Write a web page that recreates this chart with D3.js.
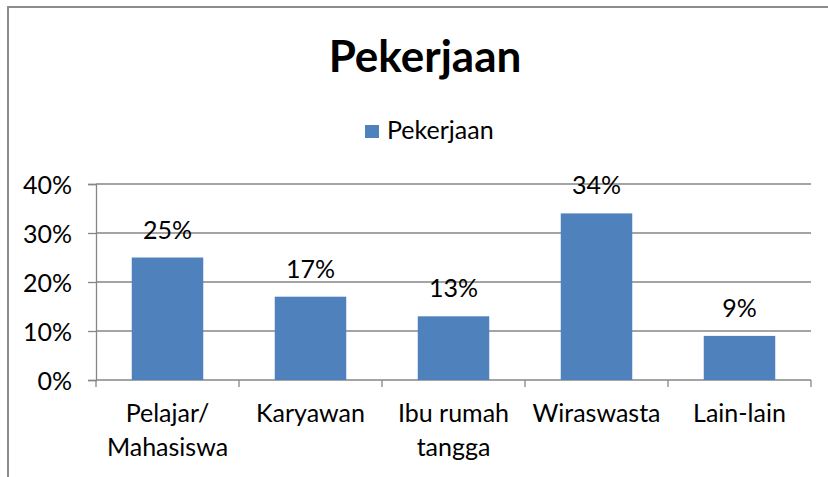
<!DOCTYPE html>
<html>
<head>
<meta charset="utf-8">
<script src="https://cdn.jsdelivr.net/npm/d3@7"></script>
<style>
  html, body { margin: 0; padding: 0; background: #fff; }
  svg { display: block; }
  text { font-family: Lato, "Open Sans", sans-serif; fill: #000; }
</style>
</head>
<body>
<svg id="chart" width="828" height="477"></svg>
<script>
const categories = [["Pelajar/", "Mahasiswa"], ["Karyawan"], ["Ibu rumah", "tangga"], ["Wiraswasta"], ["Lain-lain"]];
const values = [0.25, 0.17, 0.13, 0.34, 0.09];
const yTicks = [0, 0.1, 0.2, 0.3, 0.4];
const seriesName = "Pekerjaan";
const title = "Pekerjaan";

const W = 828, H = 477;
const svg = d3.select("#chart");
const plot = { left: 96, right: 811, top: 184, bottom: 380 };
const fs = 25;

// outer border
svg.append("rect").attr("x", 8).attr("y", 7).attr("width", 900).attr("height", 600)
  .attr("fill", "none").attr("stroke", "#8c8c8c").attr("stroke-width", 2);

const idx = categories.map((d, i) => i);
const x = d3.scaleBand().domain(idx).range([plot.left, plot.right]).paddingInner(0.5).paddingOuter(0.25);
const xb = d3.scaleBand().domain(idx).range([plot.left, plot.right]);
const y = d3.scaleLinear().domain([0, 0.4]).range([plot.bottom, plot.top]);

// gridlines
svg.append("g").selectAll("line").data(yTicks.slice(1)).join("line")
  .attr("x1", plot.left).attr("x2", plot.right)
  .attr("y1", d => y(d)).attr("y2", d => y(d))
  .attr("stroke", "#868686").attr("stroke-width", 1.3);

// y axis
const yAxis = d3.axisLeft(y).tickValues(yTicks).tickFormat(d3.format(".0%")).tickSize(8).tickPadding(16);
const gy = svg.append("g").attr("transform", `translate(${plot.left},0)`).call(yAxis);
gy.select(".domain").attr("stroke", "#868686").attr("stroke-width", 1.3);
gy.selectAll(".tick line").attr("stroke", "#868686").attr("stroke-width", 1.3);
gy.selectAll(".tick text").attr("font-size", fs).attr("font-family", "Lato").attr("fill", "#000").attr("dy", "0.36em");

// x axis line + ticks at boundaries
svg.append("line").attr("x1", plot.left).attr("x2", plot.right)
  .attr("y1", plot.bottom).attr("y2", plot.bottom).attr("stroke", "#868686").attr("stroke-width", 1.3);
const bounds = idx.map(i => xb(i)).concat([plot.right]);
svg.append("g").selectAll("line").data(bounds).join("line")
  .attr("x1", d => d).attr("x2", d => d)
  .attr("y1", plot.bottom).attr("y2", plot.bottom + 7)
  .attr("stroke", "#868686").attr("stroke-width", 1.3);

// bars
svg.append("g").selectAll("rect").data(values).join("rect")
  .attr("x", (d, i) => x(i)).attr("width", x.bandwidth())
  .attr("y", d => y(d)).attr("height", d => y(0) - y(d))
  .attr("fill", "#4F81BD");

// data labels
svg.append("g").selectAll("text").data(values).join("text")
  .attr("x", (d, i) => x(i) + x.bandwidth() / 2)
  .attr("y", d => y(d) - 19)
  .attr("text-anchor", "middle").attr("font-size", fs)
  .text(d => d3.format(".0%")(d));

// category labels
const cl = svg.append("g").selectAll("text").data(categories).join("text")
  .attr("x", (d, i) => xb(i) + xb.bandwidth() / 2)
  .attr("y", 422)
  .attr("text-anchor", "middle").attr("font-size", fs);
cl.selectAll("tspan").data(d => d).join("tspan")
  .attr("x", function () { return d3.select(this.parentNode).attr("x"); })
  .attr("dy", (d, j) => j === 0 ? 0 : 34)
  .text(d => d);

// title
svg.append("text").attr("x", 425).attr("y", 72).attr("text-anchor", "middle")
  .attr("font-size", 44).attr("font-weight", "bold").text(title);

// legend
const lg = svg.append("g");
lg.append("rect").attr("x", 365).attr("y", 125).attr("width", 14).attr("height", 13).attr("fill", "#4F81BD");
lg.append("text").attr("x", 387).attr("y", 139).attr("font-size", fs).text(seriesName);
</script>
</body>
</html>
